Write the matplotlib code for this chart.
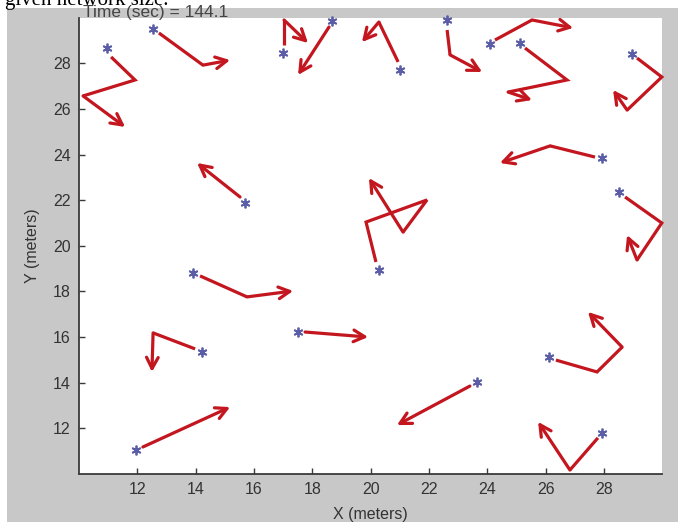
import matplotlib
matplotlib.use("Agg")
import matplotlib.pyplot as plt
from matplotlib.patches import Rectangle

# Current node positions (asterisks)
node_x = [10.96, 12.54, 16.99, 18.67, 21.00, 22.62, 24.09, 25.12, 28.96, 15.69,
          13.91, 20.28, 27.93, 28.51, 14.22, 11.95, 17.51, 23.64, 26.11, 27.93]
node_y = [28.67, 29.50, 28.45, 29.86, 27.71, 29.90, 28.85, 28.89, 28.41, 21.88,
          18.81, 18.94, 23.85, 22.36, 15.34, 11.05, 16.22, 14.03, 15.12, 11.79]

# Trajectories (waypoints); last point is the arrow tip
path_x = [
    [11.10, 11.92, 10.14, 11.58],
    [12.74, 14.25, 15.18],
    [17.03, 17.03, 17.85],
    [18.57, 17.51],
    [20.94, 20.28, 19.70],
    [22.62, 22.72, 23.82],
    [24.26, 25.53, 26.94],
    [25.29, 26.73, 24.71, 25.53],
    [29.13, 29.98, 28.79, 28.31],
    [15.52, 14.05],
    [14.15, 15.76, 17.34],
    [20.18, 19.84, 21.93, 21.11, 19.94],
    [27.69, 26.15, 24.43],
    [28.72, 29.98, 29.13, 28.79],
    [13.98, 12.54, 12.50],
    [12.19, 15.18],
    [17.75, 19.91],
    [23.40, 20.90],
    [26.35, 27.76, 28.62, 27.45],
    [27.79, 26.83, 25.74],
]
path_y = [
    [28.28, 27.27, 26.57, 25.21],
    [29.33, 27.92, 28.14],
    [28.80, 29.90, 28.89],
    [29.59, 27.49],
    [28.06, 29.81, 28.93],
    [29.46, 28.37, 27.62],
    [29.02, 29.90, 29.55],
    [28.67, 27.27, 26.74, 26.39],
    [28.23, 27.40, 25.95, 26.83],
    [22.14, 23.63],
    [18.68, 17.76, 18.02],
    [19.29, 21.04, 22.01, 20.60, 22.97],
    [23.89, 24.38, 23.63],
    [22.14, 21.00, 19.38, 20.47],
    [15.48, 16.18, 14.47],
    [11.18, 12.93],
    [16.22, 16.00],
    [13.85, 12.14],
    [14.99, 14.47, 15.56, 17.10],
    [11.58, 10.17, 12.28],
]

x_ticks = [12, 14, 16, 18, 20, 22, 24, 26, 28]
y_ticks = [12, 14, 16, 18, 20, 22, 24, 26, 28]
time_label = "Time (sec) = 144.1"

W, H = 678, 522
fig = plt.figure(figsize=(W / 100, H / 100), dpi=100, facecolor="white")

# gray MATLAB figure area (cropped screenshot)
fig.patches.append(Rectangle((7 / W, 0), 1 - 7 / W, 1 - 8 / H,
                             transform=fig.transFigure, facecolor="#c8c8c8",
                             edgecolor="none", zorder=-10))
# cut-off caption text from the surrounding document
fig.text(5 / W, 1 - 5 / H, "given network size.", family="Liberation Serif",
         fontsize=15, color="black", va="baseline", ha="left", zorder=-5)

ax = fig.add_axes([79 / W, (H - 473.9) / H, 583.4 / W, 456.2 / H])
ax.set_facecolor("white")
ax.set_xlim(10, 30)
ax.set_ylim(10, 30)

red = "#c3161f"
for px, py in zip(path_x, path_y):
    ax.plot(px[:-1], py[:-1], color=red, lw=2.3, solid_capstyle="butt",
            solid_joinstyle="miter", zorder=2, clip_on=False)
    ax.annotate("", xy=(px[-1], py[-1]), xytext=(px[-2], py[-2]),
                arrowprops=dict(arrowstyle="->,head_length=0.8,head_width=0.42",
                                color=red, lw=2.3, shrinkA=0, shrinkB=0),
                zorder=2, annotation_clip=False)

ax.plot(node_x, node_y, linestyle="none", marker=(6, 2, 0), markersize=7,
        markeredgewidth=1.3, color="#5b5ea6", zorder=3, clip_on=False)

for s in ["top", "right"]:
    ax.spines[s].set_visible(False)
for s in ["left", "bottom"]:
    ax.spines[s].set_color("#3a3a3a")
    ax.spines[s].set_linewidth(1.3)

ax.set_xticks(x_ticks)
ax.set_yticks(y_ticks)
ax.tick_params(direction="in", length=4, width=1, color="#3a3a3a",
               labelsize=11.5, labelcolor="#333333", pad=6)
for lab in ax.get_xticklabels() + ax.get_yticklabels():
    lab.set_family("Liberation Sans")

ax.set_xlabel("X (meters)", family="Liberation Sans", fontsize=11.5,
              color="#333333", labelpad=7)
ax.set_ylabel("Y (meters)", family="Liberation Sans", fontsize=11.5,
              color="#333333", labelpad=9)

fig.text(83 / W, 1 - 17.5 / H, time_label, family="Liberation Sans",
         fontsize=12.5, color="#444444", va="baseline", ha="left", zorder=5)

fig.savefig("out.png", dpi=100, facecolor=fig.get_facecolor())
